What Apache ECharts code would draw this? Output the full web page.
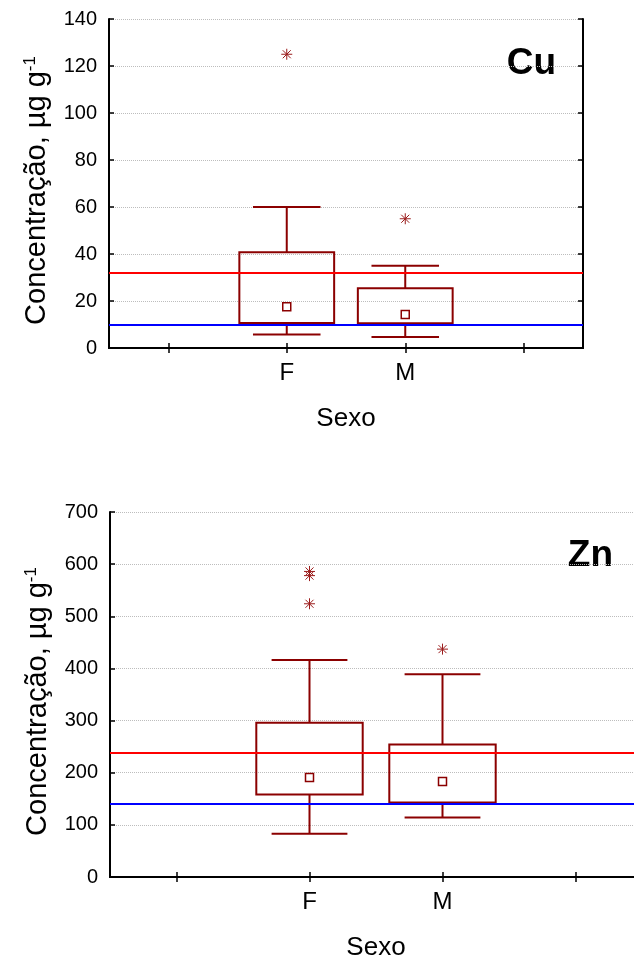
<!DOCTYPE html>
<html>
<head>
<meta charset="utf-8">
<script src="https://cdn.jsdelivr.net/npm/echarts@6/dist/echarts.min.js"></script>
<style>
html,body{margin:0;padding:0;background:#fff;}
#chart{width:634px;height:963px;}
</style>
</head>
<body>
<div id="chart"></div>
<script>
// ---- data ----
const categories = ['', 'F', 'M', ''];
const boxCategoryIndex = [1, 2]; // F, M

// Cu
const cuWhiskerLow  = [5.7, 4.7];
const cuQ1          = [10.6, 10.5];
const cuMedian      = [17.6, 14.3];
const cuQ3          = [40.7, 25.4];
const cuWhiskerHigh = [60, 35];
const cuOutliersF   = [125];
const cuOutliersM   = [55];
const cuRedLine  = 32;
const cuBlueLine = 10;
const cuTicks = {min: 0, max: 140, interval: 20};

// Zn
const znWhiskerLow  = [83, 114];
const znQ1          = [158, 143];
const znMedian      = [191, 183];
const znQ3          = [296, 254];
const znWhiskerHigh = [416, 389];
const znOutliersF   = [586, 578, 524];
const znOutliersM   = [437];
const znRedLine  = 239;
const znBlueLine = 140;
const znTicks = {min: 0, max: 700, interval: 100};

// ---- styling ----
const FONT = 'Liberation Sans, Arial, sans-serif';
const BOXC = '#8b0000';

function buildBoxData(lo, q1, med, q3, hi) {
  return boxCategoryIndex.map((c, i) => [c, lo[i], q1[i], med[i], q3[i], hi[i]]);
}
function buildOutliers(of, om) {
  return of.map(v => [1, v]).concat(om.map(v => [2, v]));
}

function renderBox(params, api) {
  const x = api.value(0);
  const band = api.size([1, 0])[0];
  const bw = band * 0.8, cw = band * 0.57;
  const pLo = api.coord([x, api.value(1)]);
  const pQ1 = api.coord([x, api.value(2)]);
  const pMed = api.coord([x, api.value(3)]);
  const pQ3 = api.coord([x, api.value(4)]);
  const pHi = api.coord([x, api.value(5)]);
  const cx = pLo[0];
  const ls = {stroke: BOXC, lineWidth: 2, fill: null};
  return {
    type: 'group',
    children: [
      {type: 'line', shape: {x1: cx, y1: pHi[1], x2: cx, y2: pQ3[1]}, style: ls},
      {type: 'line', shape: {x1: cx - cw / 2, y1: pHi[1], x2: cx + cw / 2, y2: pHi[1]}, style: ls},
      {type: 'line', shape: {x1: cx, y1: pLo[1], x2: cx, y2: pQ1[1]}, style: ls},
      {type: 'line', shape: {x1: cx - cw / 2, y1: pLo[1], x2: cx + cw / 2, y2: pLo[1]}, style: ls},
      {type: 'rect', shape: {x: cx - bw / 2, y: pQ3[1], width: bw, height: pQ1[1] - pQ3[1]},
        style: {stroke: BOXC, lineWidth: 2, fill: 'rgba(0,0,0,0)'}},
      {type: 'rect', shape: {x: cx - 4, y: pMed[1] - 4, width: 8, height: 8},
        style: {stroke: BOXC, lineWidth: 1.5, fill: '#fff'}}
    ]
  };
}

function renderStar(params, api) {
  const p = api.coord([api.value(0), api.value(1)]);
  const r = 5.5, d = 4;
  const ls = {stroke: '#9b1c1c', lineWidth: 1};
  return {
    type: 'group',
    children: [
      {type: 'line', shape: {x1: p[0] - r, y1: p[1], x2: p[0] + r, y2: p[1]}, style: ls},
      {type: 'line', shape: {x1: p[0], y1: p[1] - r, x2: p[0], y2: p[1] + r}, style: ls},
      {type: 'line', shape: {x1: p[0] - d, y1: p[1] - d, x2: p[0] + d, y2: p[1] + d}, style: ls},
      {type: 'line', shape: {x1: p[0] - d, y1: p[1] + d, x2: p[0] + d, y2: p[1] - d}, style: ls}
    ]
  };
}

const axisLineStyle = {lineStyle: {color: '#000', width: 2}};
const tickStyle = {show: true, inside: true, length: 5, alignWithLabel: true, lineStyle: {color: '#000', width: 1.5}};

function xAxes(gridIndex) {
  return [
    {
      type: 'category', gridIndex: gridIndex, position: 'bottom', data: categories,
      boundaryGap: true,
      axisLine: axisLineStyle, axisTick: tickStyle,
      axisLabel: {color: '#000', fontFamily: FONT, fontSize: 24, margin: 13},
      name: 'Sexo', nameLocation: 'middle', nameGap: 58,
      nameTextStyle: {color: '#000', fontFamily: FONT, fontSize: 26},
      splitLine: {show: false}
    },
    {
      type: 'category', gridIndex: gridIndex, position: 'top', data: categories,
      boundaryGap: true,
      axisLine: axisLineStyle, axisTick: tickStyle,
      axisLabel: {show: false}, splitLine: {show: false}
    }
  ];
}

function yAxes(gridIndex, t) {
  return [
    {
      type: 'value', gridIndex: gridIndex, position: 'left',
      min: t.min, max: t.max, interval: t.interval,
      axisLine: {show: true, lineStyle: {color: '#000', width: 2}},
      axisTick: {show: true, inside: true, length: 5, lineStyle: {color: '#000', width: 1.5}},
      axisLabel: {color: '#000', fontFamily: FONT, fontSize: 20, margin: 12},
      splitLine: {show: true, lineStyle: {color: '#bdbdbd', type: 'dotted', width: 1}},
      name: 'Concentração, µg g{sup|-1}', nameLocation: 'middle', nameGap: 58,
      nameTextStyle: {
        color: '#000', fontFamily: FONT, fontSize: 29, padding: [0, 14, 0, 0],
        rich: {sup: {fontSize: 17, fontFamily: FONT, color: '#000', verticalAlign: 'top'}}
      }
    },
    {
      type: 'value', gridIndex: gridIndex, position: 'right',
      min: t.min, max: t.max, interval: t.interval,
      axisLine: {show: true, lineStyle: {color: '#000', width: 2}},
      axisTick: {show: true, inside: true, length: 5, lineStyle: {color: '#000', width: 1.5}},
      axisLabel: {show: false}, splitLine: {show: false}
    }
  ];
}

function refLines(red, blue) {
  return {
    silent: true, symbol: ['none', 'none'], label: {show: false},
    data: [
      {yAxis: red, lineStyle: {color: '#ff0000', width: 2, type: 'solid'}},
      {yAxis: blue, lineStyle: {color: '#0000ff', width: 2, type: 'solid'}}
    ]
  };
}

const chart = echarts.init(document.getElementById('chart'), null, {renderer: 'canvas'});
chart.setOption({
  animation: false,
  backgroundColor: '#fff',
  grid: [
    {left: 109, top: 19, width: 474, height: 329, outerBoundsMode: 'none', containLabel: false},
    {left: 110, top: 512, width: 532, height: 365, outerBoundsMode: 'none', containLabel: false}
  ],
  xAxis: xAxes(0).concat(xAxes(1)),
  yAxis: yAxes(0, cuTicks).concat(yAxes(1, znTicks)),
  graphic: [
    {type: 'text', x: 556, y: 64, style: {text: 'Cu', align: 'right', verticalAlign: 'middle', font: 'bold 37px ' + FONT, fill: '#000'}},
    {type: 'text', x: 613, y: 556, style: {text: 'Zn', align: 'right', verticalAlign: 'middle', font: 'bold 37px ' + FONT, fill: '#000'}}
  ],
  series: [
    {
      type: 'custom', xAxisIndex: 0, yAxisIndex: 0,
      data: buildBoxData(cuWhiskerLow, cuQ1, cuMedian, cuQ3, cuWhiskerHigh),
      encode: {x: 0, y: [1, 2, 3, 4, 5]},
      renderItem: renderBox, markLine: refLines(cuRedLine, cuBlueLine), z: 3
    },
    {
      type: 'custom', xAxisIndex: 0, yAxisIndex: 0,
      data: buildOutliers(cuOutliersF, cuOutliersM),
      encode: {x: 0, y: 1}, renderItem: renderStar, z: 3
    },
    {
      type: 'custom', xAxisIndex: 2, yAxisIndex: 2,
      data: buildBoxData(znWhiskerLow, znQ1, znMedian, znQ3, znWhiskerHigh),
      encode: {x: 0, y: [1, 2, 3, 4, 5]},
      renderItem: renderBox, markLine: refLines(znRedLine, znBlueLine), z: 3
    },
    {
      type: 'custom', xAxisIndex: 2, yAxisIndex: 2,
      data: buildOutliers(znOutliersF, znOutliersM),
      encode: {x: 0, y: 1}, renderItem: renderStar, z: 3
    }
  ]
});
</script>
</body>
</html>
